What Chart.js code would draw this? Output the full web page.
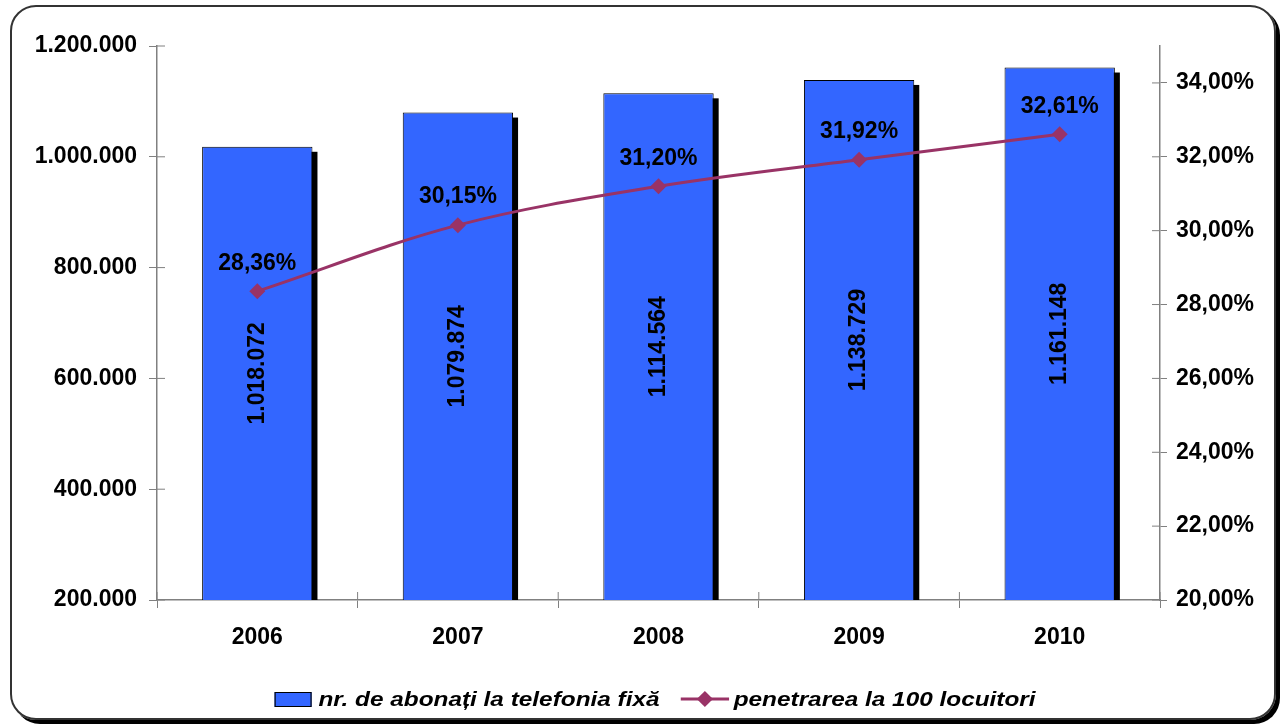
<!DOCTYPE html>
<html>
<head>
<meta charset="utf-8">
<script src="https://cdn.jsdelivr.net/npm/chart.js@4/dist/chart.umd.min.js"></script>
<style>
  html, body { margin: 0; padding: 0; background: #fff; }
  body { width: 1286px; height: 726px; position: relative; overflow: hidden; font-family: "Liberation Sans", Arial, sans-serif; }
  .frame {
    position: absolute; left: 10px; top: 5px; width: 1262px; height: 711px;
    border: 2px solid #333; border-radius: 26px; box-shadow: 4px 4px 0 #000;
  }
  #wrap { position: absolute; left: 0; top: 0; width: 1286px; height: 726px; }
  .legend {
    position: absolute; left: 12px; top: 686px; width: 1286px; text-align: center;
    font: italic bold 21px "Liberation Sans", Arial, sans-serif; color: #000;
    transform: scaleX(1.16); transform-origin: 643px 50%;
  }
  .legend span { display: inline-block; vertical-align: middle; }
  .box { width: 30px; height: 13px; background: #3366ff; border: 1.5px solid #000; margin-right: 6px; }
  .mk { width: 42px; height: 20px; margin-left: 12px; margin-right: 4px; }
</style>
</head>
<body>
<div class="frame"></div>
<div id="wrap"><canvas id="chart" width="1286" height="726"></canvas></div>
<div class="legend">
  <span class="box"></span><span>nr. de abonați la telefonia fixă</span>
  <span class="mk"><svg width="42" height="20"><line x1="0" y1="10" x2="42" y2="10" stroke="#993366" stroke-width="3"/><polygon points="21,2 28,10 21,18 14,10" fill="#993366"/></svg></span><span>penetrarea la 100 locuitori</span>
</div>
<script>
// data
const years = ['2006', '2007', '2008', '2009', '2010'];
const subscribers = [1018072, 1079874, 1114564, 1138729, 1161148];
const penetration = [28.36, 30.15, 31.20, 31.92, 32.61];

const fmtThousands = v => Math.round(v).toString().replace(/\B(?=(\d{3})+(?!\d))/g, '.');
const fmtPct = v => v.toFixed(2).replace('.', ',') + '%';

const FONT = { family: '"Liberation Sans", Arial, sans-serif', size: 23, weight: 'bold' };

// black drop shadow behind the bars
const barShadow = {
  id: 'barShadow',
  beforeDatasetsDraw(chart) {
    const meta = chart.getDatasetMeta(0);
    const bottom = chart.chartArea.bottom;
    const ctx = chart.ctx;
    ctx.save();
    ctx.fillStyle = '#000';
    meta.data.forEach(bar => {
      const w = bar.width;
      ctx.fillRect(bar.x - w / 2 + 5, bar.y + 5, w, bottom - bar.y - 5);
    });
    ctx.restore();
  }
};

// tick marks that also cross into the plot (excel style)
const innerTicks = {
  id: 'innerTicks',
  afterDraw(chart) {
    const ctx = chart.ctx;
    const { left, right, bottom } = chart.chartArea;
    ctx.save();
    ctx.strokeStyle = '#808080';
    ctx.lineWidth = 1;
    ctx.beginPath();
    chart.scales.y.ticks.forEach((t, i) => {
      const y = chart.scales.y.getPixelForTick(i);
      ctx.moveTo(left, y); ctx.lineTo(left + 8, y);
    });
    chart.scales.y1.ticks.forEach((t, i) => {
      const y = chart.scales.y1.getPixelForTick(i);
      ctx.moveTo(right, y); ctx.lineTo(right - 8, y);
    });
    const xs = chart.scales.x;
    const half = (xs.getPixelForTick(1) - xs.getPixelForTick(0)) / 2;
    for (let i = 0; i <= years.length; i++) {
      const x = xs.getPixelForTick(0) - half + i * half * 2;
      ctx.moveTo(x, bottom); ctx.lineTo(x, bottom - 8);
    }
    ctx.stroke();
    ctx.restore();
  }
};

// value labels
const valueLabels = {
  id: 'valueLabels',
  afterDatasetsDraw(chart) {
    const ctx = chart.ctx;
    const bottom = chart.chartArea.bottom;
    ctx.save();
    ctx.fillStyle = '#000';
    ctx.font = 'bold 23px "Liberation Sans", Arial, sans-serif';
    ctx.textAlign = 'center';
    ctx.textBaseline = 'middle';
    chart.getDatasetMeta(0).data.forEach((bar, i) => {
      ctx.save();
      ctx.translate(bar.x, (bar.y + bottom) / 2);
      ctx.rotate(-Math.PI / 2);
      ctx.fillText(fmtThousands(subscribers[i]), 0, 0);
      ctx.restore();
    });
    chart.getDatasetMeta(1).data.forEach((pt, i) => {
      ctx.fillText(fmtPct(penetration[i]), pt.x, pt.y - 28);
    });
    ctx.restore();
  }
};

new Chart(document.getElementById('chart'), {
  data: {
    labels: years,
    datasets: [{
      type: 'bar',
      label: 'nr. de abonați la telefonia fixă',
      data: subscribers,
      backgroundColor: '#3366ff',
      borderColor: '#000',
      borderWidth: 1,
      categoryPercentage: 1,
      barPercentage: 0.55,
      yAxisID: 'y',
      order: 2
    }, {
      type: 'line',
      label: 'penetrarea la 100 locuitori',
      data: penetration,
      borderColor: '#993366',
      backgroundColor: '#993366',
      borderWidth: 3,
      tension: 0.35,
      pointStyle: 'rectRot',
      pointRadius: 8,
      pointBorderWidth: 0,
      yAxisID: 'y1',
      order: 1
    }]
  },
  options: {
    responsive: false,
    animation: false,
    layout: { padding: { top: 46, left: 0, right: 0, bottom: 0 } },
    plugins: { legend: { display: false }, tooltip: { enabled: false } },
    scales: {
      x: {
        offset: true,
        grid: { offset: true, drawOnChartArea: false, color: '#808080', tickLength: 8 },
        border: { color: '#808080', width: 1.5 },
        ticks: { color: '#000', font: FONT, padding: 16 },
        afterFit(s) { s.height = 126; }
      },
      y: {
        position: 'left',
        min: 200000,
        max: 1200000,
        grid: { drawOnChartArea: false, color: '#808080', tickLength: 8 },
        border: { color: '#808080', width: 1.5 },
        ticks: { stepSize: 200000, color: '#000', font: FONT, padding: 12, callback: v => fmtThousands(v) },
        afterFit(s) { s.width = 157; }
      },
      y1: {
        position: 'right',
        min: 20,
        max: 35,
        grid: { drawOnChartArea: false, color: '#808080', tickLength: 7 },
        border: { color: '#808080', width: 1.5 },
        ticks: { stepSize: 2, color: '#000', font: FONT, padding: 9, callback: v => fmtPct(v) },
        afterBuildTicks(s) { s.ticks = s.ticks.filter(t => t.value <= 34); },
        afterFit(s) { s.width = 126; }
      }
    }
  },
  plugins: [barShadow, valueLabels, innerTicks]
});
</script>
</body>
</html>
